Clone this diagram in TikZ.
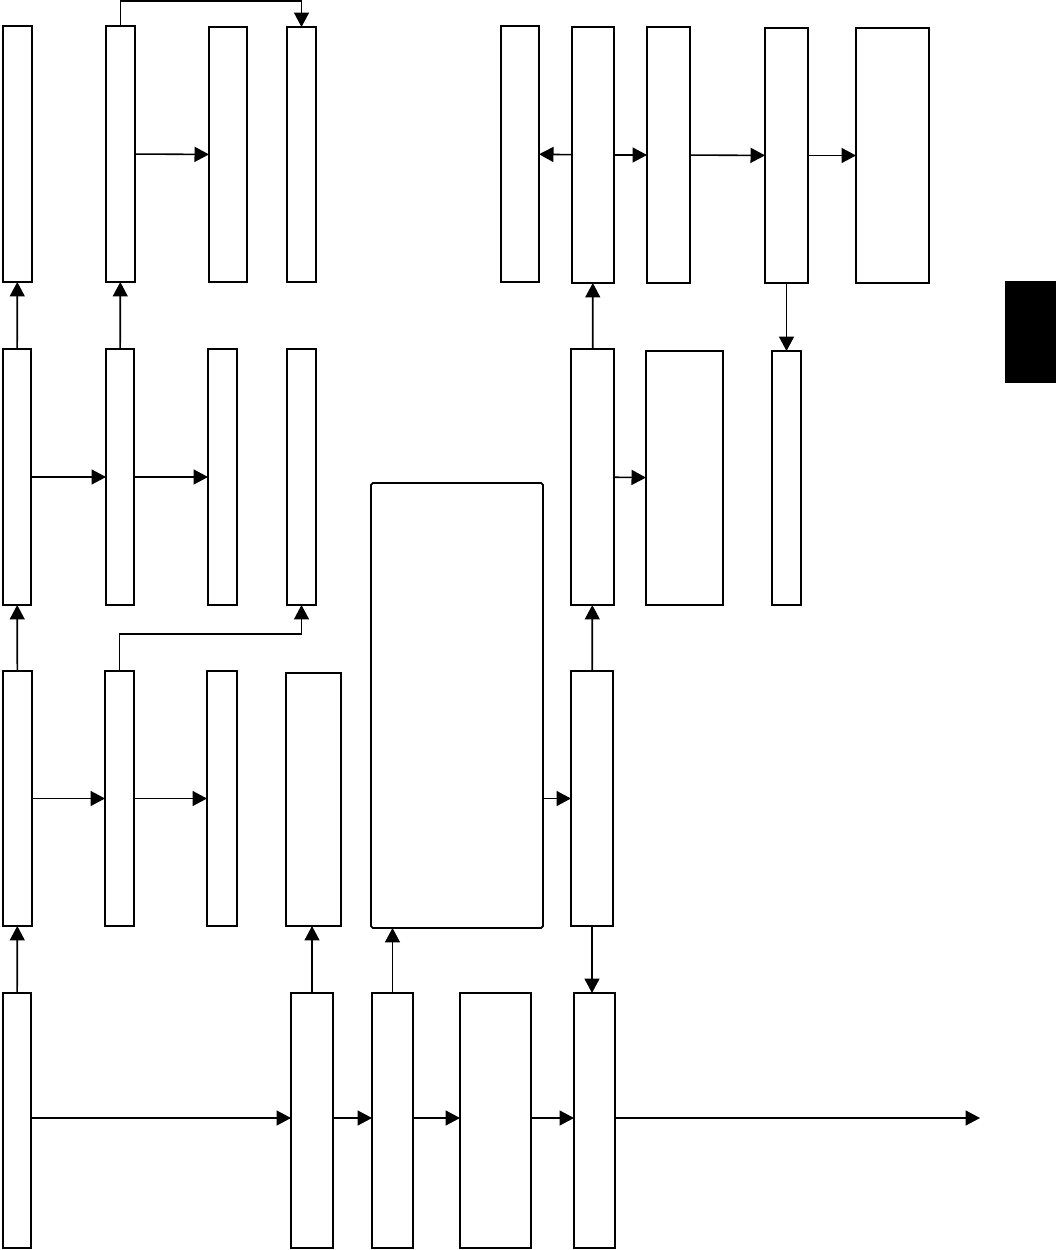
\documentclass[tikz,border=0pt]{standalone}
\usepackage{tikz}
\usetikzlibrary{arrows.meta}

\begin{document}
\begin{tikzpicture}[x=0.02cm,y=-0.02cm,
  blk/.style={draw,line width=1pt,inner sep=0pt,outer sep=0pt,fill=white},
  arr/.style={line width=0.9pt,-{Triangle[length=0.29cm,width=0.30cm]}}]
\useasboundingbox (0,0) rectangle (1056,1250);
\node[blk,minimum width=0.58cm,minimum height=5.12cm] (a1) at (17.5,154) {};
\node[blk,minimum width=0.58cm,minimum height=5.12cm] (a2) at (120.5,154) {};
\node[blk,minimum width=0.76cm,minimum height=5.10cm] (a3) at (228,154.5) {};
\node[blk,minimum width=0.58cm,minimum height=5.10cm] (a4) at (301.5,154.5) {};
\node[blk,minimum width=0.76cm,minimum height=5.12cm] (b1) at (520,154) {};
\node[blk,minimum width=0.84cm,minimum height=5.12cm] (b2) at (593,155) {};
\node[blk,minimum width=0.86cm,minimum height=5.12cm] (b3) at (668.5,155) {};
\node[blk,minimum width=0.86cm,minimum height=5.10cm] (b4) at (786.5,155.5) {};
\node[blk,minimum width=1.46cm,minimum height=5.10cm] (b5) at (892.5,155.5) {};
\node[blk,minimum width=0.56cm,minimum height=5.12cm] (c1) at (17,477) {};
\node[blk,minimum width=0.56cm,minimum height=5.12cm] (c2) at (120,477) {};
\node[blk,minimum width=0.58cm,minimum height=5.12cm] (c3) at (222.5,477) {};
\node[blk,minimum width=0.58cm,minimum height=5.12cm] (c4) at (301.5,477) {};
\node[blk,minimum width=0.86cm,minimum height=5.12cm] (d1) at (592.5,477) {};
\node[blk,minimum width=1.54cm,minimum height=5.08cm] (d2) at (684.5,478) {};
\node[blk,minimum width=0.58cm,minimum height=5.08cm] (d3) at (786.5,478) {};
\node[blk,minimum width=0.58cm,minimum height=5.10cm] (e1) at (17.5,798.5) {};
\node[blk,minimum width=0.58cm,minimum height=5.10cm] (e2) at (119.5,798.5) {};
\node[blk,minimum width=0.60cm,minimum height=5.10cm] (e3) at (222,798.5) {};
\node[blk,minimum width=1.10cm,minimum height=5.06cm] (e4) at (313.5,799.5) {};
\node[blk,minimum width=3.44cm,minimum height=8.90cm,rounded corners=1pt] (f) at (457,705.5) {};
\node[blk,minimum width=0.84cm,minimum height=5.10cm] (e5) at (592,798.5) {};
\node[blk,minimum width=0.56cm,minimum height=5.10cm] (g1) at (17,1120.5) {};
\node[blk,minimum width=0.84cm,minimum height=5.10cm] (g2) at (312,1120.5) {};
\node[blk,minimum width=0.82cm,minimum height=5.10cm] (g3) at (392.5,1120.5) {};
\node[blk,minimum width=1.42cm,minimum height=5.10cm] (g4) at (495.5,1120.5) {};
\node[blk,minimum width=0.82cm,minimum height=5.10cm] (g5) at (594.5,1120.5) {};
\node[fill=black,inner sep=0pt,minimum width=1.02cm,minimum height=2.04cm] (tab) at (1030.5,332) {};
\coordinate (out) at (980,1118);
\draw[arr] (a2.north) -- ++(0,-25) -| (a4.north);
\draw[arr] (a2) -- (a3);
\draw[arr] (b2) -- (b1);
\draw[arr] (b2) -- (b3);
\draw[arr] (b3) -- (b4);
\draw[arr] (b4) -- (b5);
\draw[arr] (b4) -- (d3);
\draw[arr] (c1) -- (a1);
\draw[arr] (c2) -- (a2);
\draw[arr] (c1) -- (c2);
\draw[arr] (c2) -- (c3);
\draw[arr] (d1) -- (b2);
\draw[arr] (d1) -- (d2);
\draw[arr] (e1) -- (c1);
\draw[arr] (e1) -- (e2);
\draw[arr] (e2) -- (e3);
\draw[arr] (e2.north) -- ++(0,-37) -| (c4.south);
\draw[arr] (f.east |- e5.west) -- (e5.west);
\draw[arr] (e5) -- (d1);
\draw[arr] (e5.south) -- (e5.south |- g5.north);
\draw[arr] (g1) -- (e1);
\draw[arr] (g2.north) -- (g2.north |- e4.south);
\draw[arr] (g3.north) -- (g3.north |- f.south);
\draw[arr] (g1.east |- out) -- (g2.west |- out);
\draw[arr] (g2.east |- out) -- (g3.west |- out);
\draw[arr] (g3.east |- out) -- (g4.west |- out);
\draw[arr] (g4.east |- out) -- (g5.west |- out);
\draw[arr] (g5.east |- out) -- (out);
\end{tikzpicture}
\end{document}
